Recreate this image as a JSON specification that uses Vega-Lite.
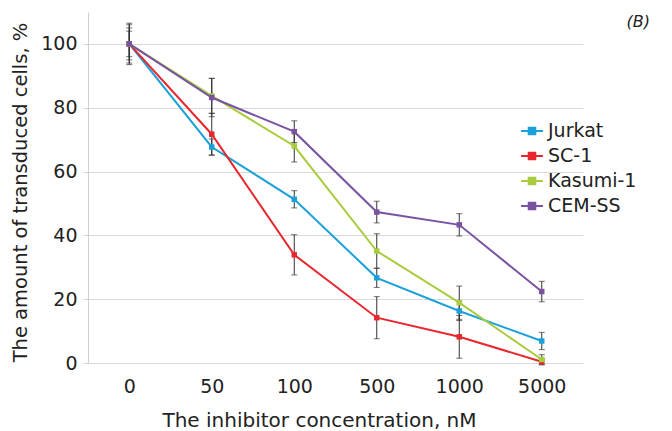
{
  "$schema": "https://vega.github.io/schema/vega-lite/v6.json",
  "width": 495,
  "height": 351,
  "autosize": {"type": "none"},
  "padding": {"left": 88, "top": 12, "right": 89, "bottom": 68},
  "config": {"font": "DejaVu Sans", "view": {"stroke": null}},
  "title": {"text": "(B)", "anchor": "end", "frame": "group", "fontStyle": "italic", "fontWeight": "normal", "fontSize": 16, "dx": 67, "dy": 22, "color": "#222"},
  "data": {"values": [
    {"conc": "0", "line": "Jurkat", "value": 100, "err": 5},
    {"conc": "50", "line": "Jurkat", "value": 67.7, "err": 2.5},
    {"conc": "100", "line": "Jurkat", "value": 51.3, "err": 2.7},
    {"conc": "500", "line": "Jurkat", "value": 26.7, "err": 3},
    {"conc": "1000", "line": "Jurkat", "value": 16.3, "err": 3},
    {"conc": "5000", "line": "Jurkat", "value": 6.9, "err": 2.7},
    {"conc": "0", "line": "SC-1", "value": 100, "err": 6},
    {"conc": "50", "line": "SC-1", "value": 71.7, "err": 6.6},
    {"conc": "100", "line": "SC-1", "value": 33.9, "err": 6.3},
    {"conc": "500", "line": "SC-1", "value": 14.2, "err": 6.6},
    {"conc": "1000", "line": "SC-1", "value": 8.2, "err": 6.7},
    {"conc": "5000", "line": "SC-1", "value": 0.4, "err": 1},
    {"conc": "0", "line": "Kasumi-1", "value": 100, "err": 4},
    {"conc": "50", "line": "Kasumi-1", "value": 83.7, "err": 5.5},
    {"conc": "100", "line": "Kasumi-1", "value": 68, "err": 5},
    {"conc": "500", "line": "Kasumi-1", "value": 35.1, "err": 5.4},
    {"conc": "1000", "line": "Kasumi-1", "value": 18.9, "err": 5.2},
    {"conc": "5000", "line": "Kasumi-1", "value": 1.1, "err": 1.5},
    {"conc": "0", "line": "CEM-SS", "value": 100, "err": 6.5},
    {"conc": "50", "line": "CEM-SS", "value": 83.2, "err": 6},
    {"conc": "100", "line": "CEM-SS", "value": 72.5, "err": 3.4},
    {"conc": "500", "line": "CEM-SS", "value": 47.3, "err": 3.4},
    {"conc": "1000", "line": "CEM-SS", "value": 43.3, "err": 3.5},
    {"conc": "5000", "line": "CEM-SS", "value": 22.4, "err": 3.2}
  ]},
  "encoding": {
    "x": {
      "field": "conc", "type": "ordinal",
      "sort": ["0", "50", "100", "500", "1000", "5000"],
      "scale": {"type": "point", "padding": 0.5},
      "axis": {
        "title": "The inhibitor concentration, nM",
        "labelAngle": 0, "labelFontSize": 19, "labelColor": "#222", "labelPadding": 14,
        "ticks": false, "domain": false, "grid": false,
        "titleFontSize": 20, "titleFontWeight": "normal", "titleColor": "#222", "titlePadding": 14,
        "titleX": 231, "titleAlign": "center"
      }
    },
    "y": {
      "field": "value", "type": "quantitative",
      "scale": {"domain": [0, 110], "nice": false},
      "axis": {
        "title": "The amount of transduced cells, %",
        "values": [0, 20, 40, 60, 80, 100],
        "labelFontSize": 19, "labelColor": "#222", "labelPadding": 6,
        "tickColor": "#d4d4d4", "tickSize": 5, "domainColor": "#cfcfcf",
        "gridColor": "#d9d9d9",
        "titleFontSize": 19.5, "titleFontWeight": "normal", "titleColor": "#222", "titlePadding": 10,
        "titleY": 180, "titleAlign": "center"
      }
    }
  },
  "layer": [
    {
      "mark": {"type": "errorbar", "ticks": {"size": 6}, "color": "#333", "thickness": 1},
      "encoding": {
        "y": {"field": "value", "type": "quantitative", "title": "The amount of transduced cells, %"},
        "yError": {"field": "err"},
        "detail": {"field": "line"}
      }
    },
    {
      "mark": {"type": "line", "strokeWidth": 2},
      "encoding": {
        "color": {
          "field": "line", "type": "nominal",
          "scale": {"domain": ["Jurkat", "SC-1", "Kasumi-1", "CEM-SS"], "range": ["#1ba1d9", "#e8262d", "#a8cc3c", "#7a52a3"]},
          "legend": {
            "title": null, "orient": "none", "legendX": 432, "legendY": 107,
            "labelFontSize": 19, "labelColor": "#222", "rowPadding": 3, "labelOffset": 4,
            "symbolType": "M-1,0L1,0M-0.3,-0.3L0.3,-0.3L0.3,0.3L-0.3,0.3Z",
            "symbolSize": 480, "symbolStrokeWidth": 2
          }
        }
      }
    },
    {
      "mark": {"type": "point", "shape": "square", "filled": true, "size": 30, "opacity": 1},
      "encoding": {
        "color": {"field": "line", "type": "nominal", "legend": null}
      }
    }
  ]
}
